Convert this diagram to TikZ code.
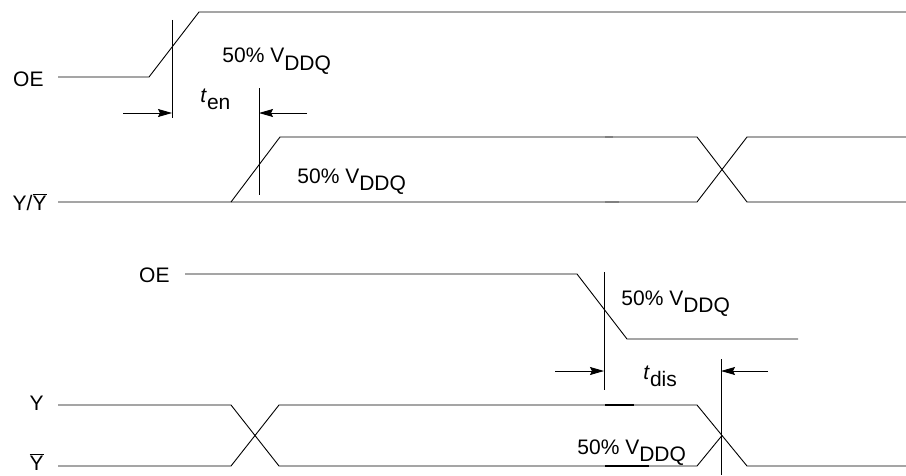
\documentclass[tikz,border=0pt]{standalone}
\usepackage{fontspec}
\setmainfont{Liberation Sans}
\usepackage{tikz}
\usetikzlibrary{calc, positioning, arrows.meta}

\newcommand{\vddq}{50\% V\raisebox{-7.5pt}{DDQ}}
\newcommand{\tsub}[1]{\textit{t}\raisebox{-7.5pt}{#1}}

\begin{document}
\begin{tikzpicture}[x=100pt, y=100pt, line width=0.9pt,
        lbl/.style={inner sep=0pt, font=\fontsize{21}{25}\selectfont},
        tip/.style={-{Stealth[length=14pt, width=8pt, inset=2pt]}},
        blob/.style={line width=2.4pt}]
    \useasboundingbox (0,0) rectangle (9.06,4.75);
    % output enable
    \begin{scope}
        \draw (0.58,3.98) -- (1.49,3.98) -- (1.99,4.63) -- (9.06,4.63);
        \draw (0.58,2.73) -- (6.97,2.73) -- (7.47,3.38) -- (9.06,3.38);
        \draw (2.31,2.73) -- (2.80,3.38) -- (6.97,3.38) -- (7.47,2.73) -- (9.06,2.73);
        \draw[blob, gray] (6.05,3.38) -- (6.13,3.38);
        \draw[blob, gray] (6.05,2.73) -- (6.19,2.73);
        \coordinate (enTop) at (1.72,4.55);
        \coordinate (enBot) at (1.72,3.57);
        \coordinate (enIn) at (1.23,3.62);
        \coordinate (enHit) at (1.72,3.62);
        \coordinate (enTop2) at (2.59,3.87);
        \coordinate (enBot2) at (2.59,2.80);
        \coordinate (enIn2) at (3.07,3.62);
        \coordinate (enHit2) at (2.59,3.62);
        \draw (enTop) -- (enBot);
        \draw (enTop2) -- (enBot2);
        \draw[tip] (enIn) -- (enHit);
        \draw[tip] (enIn2) -- (enHit2);
        \node[lbl, anchor=base east] (oeA) at (0.44,3.88) {OE};
        \node[lbl, anchor=base east] (yyA) at (0.47,2.65) {Y/$\overline{\mbox{Y}}$};
        \node[lbl, anchor=base west] (vA) at (2.22,4.12) {\vddq};
        \node[lbl, anchor=base west] (ten) at (2.00,3.73) {\tsub{en}};
        \node[lbl, anchor=base west] (vB) at (2.97,2.92) {\vddq};
    \end{scope}
    % output disable
    \begin{scope}
        \draw (1.85,2.01) -- (5.77,2.01) -- (6.27,1.36) -- (7.98,1.36);
        \draw (0.58,0.70) -- (2.31,0.70) -- (2.79,0.09) -- (6.97,0.09) -- (7.22,0.395);
        \draw (0.58,0.09) -- (2.31,0.09) -- (2.79,0.70) -- (6.97,0.70) -- (7.47,0.09) -- (9.06,0.09);
        \draw[blob] (6.05,0.70) -- (6.34,0.70);
        \draw[blob] (6.05,0.09) -- (6.49,0.09);
        \coordinate (disTop) at (6.04,2.03);
        \coordinate (disBot) at (6.04,0.85);
        \coordinate (disIn) at (5.55,1.04);
        \coordinate (disHit) at (6.04,1.04);
        \coordinate (disTop2) at (7.21,1.16);
        \coordinate (disBot2) at (7.21,0);
        \coordinate (disIn2) at (7.68,1.04);
        \coordinate (disHit2) at (7.21,1.04);
        \draw (disTop) -- (disBot);
        \draw (disTop2) -- (disBot2);
        \draw[tip] (disIn) -- (disHit);
        \draw[tip] (disIn2) -- (disHit2);
        \node[lbl, anchor=base east] (oeB) at (1.70,1.93) {OE};
        \node[lbl, anchor=base east] (yB) at (0.44,0.65) {Y};
        \node[lbl, anchor=base east] (ybB) at (0.44,0.05) {$\overline{\mbox{Y}}$};
        \node[lbl, anchor=base west] (vC) at (6.21,1.70) {\vddq};
        \node[lbl, anchor=base west] (tdis) at (6.43,0.96) {\tsub{dis}};
        \node[lbl, anchor=base west] (vD) at (5.77,0.21) {\vddq};
    \end{scope}
\end{tikzpicture}
\end{document}
